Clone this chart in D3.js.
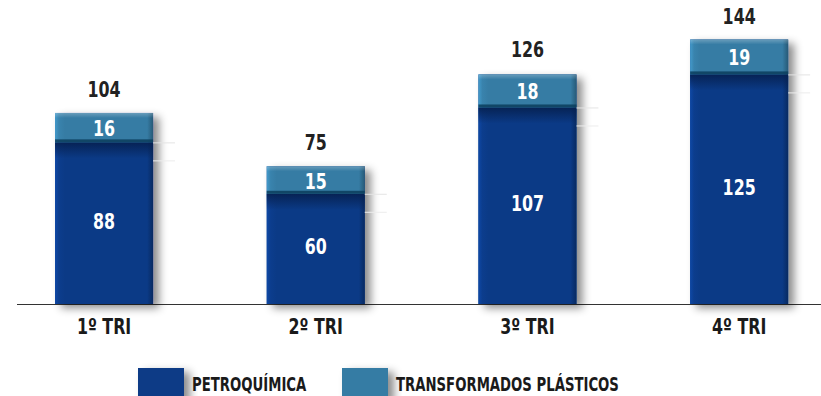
<!DOCTYPE html>
<html>
<head>
<meta charset="utf-8">
<script src="https://cdn.jsdelivr.net/npm/d3@7"></script>
<style>
  html, body { margin: 0; padding: 0; background: #fff; }
  svg { display: block; }
  text { font-family: "DejaVu Sans", sans-serif; font-stretch: condensed; }
</style>
</head>
<body>
<svg id="chart" width="821" height="396"></svg>
<script>
// Quarterly results by business segment
const categories = ["1º TRI", "2º TRI", "3º TRI", "4º TRI"];
const petroquimica = [88, 60, 107, 125];
const transformados = [16, 15, 18, 19];
const totals = [104, 75, 126, 144];
const seriesNames = ["PETROQUÍMICA", "TRANSFORMADOS PLÁSTICOS"];

const W = 821, H = 396;
const baseY = 304;
const colors = { dark: "#0b3a86", light: "#367ca4" };

const svg = d3.select("#chart");
const defs = svg.append("defs");

// narrow the condensed face a little further, DIN-like
function squeeze(sel, k) {
  sel.each(function () {
    const w = this.getComputedTextLength();
    d3.select(this).attr("textLength", w * k).attr("lengthAdjust", "spacingAndGlyphs");
  });
}

// soft drop shadow for bars and swatches
const shadow = defs.append("filter").attr("id", "shadow")
  .attr("x", "-20%").attr("y", "-20%").attr("width", "150%").attr("height", "150%");
shadow.append("feDropShadow").attr("dx", 6).attr("dy", 4)
  .attr("stdDeviation", 4).attr("flood-color", "#000").attr("flood-opacity", 0.45);

// horizontal bevel: lighter left edge, darker right edge
function bevel(id, base) {
  const c = d3.color(base);
  const g = defs.append("linearGradient").attr("id", id)
    .attr("x1", 0).attr("x2", 1).attr("y1", 0).attr("y2", 0);
  g.append("stop").attr("offset", "0%").attr("stop-color", c.brighter(0.6));
  g.append("stop").attr("offset", "4%").attr("stop-color", c.brighter(0.15));
  g.append("stop").attr("offset", "10%").attr("stop-color", c);
  g.append("stop").attr("offset", "94%").attr("stop-color", c);
  g.append("stop").attr("offset", "100%").attr("stop-color", c.darker(0.9));
}
bevel("gDark", colors.dark);
bevel("gLight", colors.light);

// dark band fading downward at top of the lower segment
const fade = defs.append("linearGradient").attr("id", "gFade")
  .attr("x1", 0).attr("x2", 0).attr("y1", 0).attr("y2", 1);
fade.append("stop").attr("offset", "0%").attr("stop-color", "#06204f").attr("stop-opacity", 0.9);
fade.append("stop").attr("offset", "100%").attr("stop-color", "#06204f").attr("stop-opacity", 0);

// top highlight of upper segment
const hi = defs.append("linearGradient").attr("id", "gHi")
  .attr("x1", 0).attr("x2", 0).attr("y1", 0).attr("y2", 1);
hi.append("stop").attr("offset", "0%").attr("stop-color", "#fff").attr("stop-opacity", 0.25);
hi.append("stop").attr("offset", "100%").attr("stop-color", "#fff").attr("stop-opacity", 0);

const x = d3.scaleBand().domain(categories).range([0, 843.2]).paddingInner(0.537).paddingOuter(0.26);
const y = d3.scaleLinear().domain([0, 144]).range([baseY, 39.5]);

const rows = categories.map((c, i) => ({
  cat: c, p: petroquimica[i], t: transformados[i], total: totals[i]
}));

// baseline axis
svg.append("line").attr("x1", 17).attr("x2", W).attr("y1", baseY + 0.5).attr("y2", baseY + 0.5)
  .attr("stroke", "#333").attr("stroke-width", 1.2);

const bw = x.bandwidth();
const g = svg.selectAll("g.bar").data(rows).join("g").attr("class", "bar")
  .attr("transform", d => `translate(${x(d.cat)},0)`);

// shadow body
g.append("rect").attr("x", 0).attr("width", bw)
  .attr("y", d => y(d.p + d.t)).attr("height", d => baseY - y(d.p + d.t))
  .attr("fill", colors.dark).attr("filter", "url(#shadow)");

// lower segment
g.append("rect").attr("x", 0).attr("width", bw)
  .attr("y", d => y(d.p)).attr("height", d => baseY - y(d.p))
  .attr("fill", "url(#gDark)");
g.append("rect").attr("x", 0).attr("width", bw)
  .attr("y", d => y(d.p)).attr("height", 16)
  .attr("fill", "url(#gFade)");

// upper segment
g.append("rect").attr("x", 0).attr("width", bw)
  .attr("y", d => y(d.p + d.t)).attr("height", d => y(d.p) - y(d.p + d.t))
  .attr("fill", "url(#gLight)");
g.append("rect").attr("x", 0).attr("width", bw)
  .attr("y", d => y(d.p + d.t)).attr("height", 5)
  .attr("fill", "url(#gHi)");
g.append("rect").attr("x", 0).attr("width", bw)
  .attr("y", d => y(d.p) - 3).attr("height", 3)
  .attr("fill", "#0a3d5c").attr("opacity", 0.85);

// faint guide lines beside each bar at the segment joint
g.append("line").attr("x1", bw).attr("x2", bw + 22)
  .attr("y1", d => y(d.p) + 0.5).attr("y2", d => y(d.p) + 0.5)
  .attr("stroke", "#e4e4e4");
g.append("line").attr("x1", bw).attr("x2", bw + 22)
  .attr("y1", d => y(d.p) + 18.5).attr("y2", d => y(d.p) + 18.5)
  .attr("stroke", "#ececec");

// value labels
const valFont = { size: 22, weight: "bold" };
const vIn1 = g.append("text").attr("x", bw / 2).attr("y", d => (y(d.p) + baseY) / 2 - 2)
  .attr("text-anchor", "middle").attr("dominant-baseline", "central")
  .attr("fill", "#fff").attr("font-size", valFont.size).attr("font-weight", valFont.weight)
  .text(d => d.p);
const vIn2 = g.append("text").attr("x", bw / 2).attr("y", d => (y(d.p) + y(d.p + d.t)) / 2 + 1)
  .attr("text-anchor", "middle").attr("dominant-baseline", "central")
  .attr("fill", "#fff").attr("font-size", valFont.size).attr("font-weight", valFont.weight)
  .text(d => d.t);
const vTot = g.append("text").attr("x", bw / 2).attr("y", d => y(d.total) - 16)
  .attr("text-anchor", "middle")
  .attr("fill", "#222").attr("font-size", valFont.size).attr("font-weight", valFont.weight)
  .text(d => d.total);
[vIn1, vIn2, vTot].forEach(s => squeeze(s, 0.8));

// category axis labels
const xAxis = d3.axisBottom(x).tickSize(0).tickPadding(0);
const ax = svg.append("g").attr("transform", `translate(0,${baseY})`).call(xAxis);
ax.select(".domain").remove();
ax.selectAll("text").attr("y", 23).attr("dy", "0.32em")
  .attr("font-size", 22).attr("font-weight", "bold").attr("fill", "#1a1a1a")
  .style("font-family", "'DejaVu Sans', sans-serif").style("font-stretch", "condensed");
squeeze(ax.selectAll("text"), 0.8);

// legend
const legendX = [138, 342];
const legendColors = [colors.dark, colors.light];
const lg = svg.selectAll("g.legend").data(seriesNames).join("g").attr("class", "legend")
  .attr("transform", (d, i) => `translate(${legendX[i]},368)`);
lg.append("rect").attr("width", 46).attr("height", 32)
  .attr("fill", (d, i) => legendColors[i]).attr("filter", "url(#shadow)");
const lt = lg.append("text").attr("x", 54).attr("y", 16).attr("dominant-baseline", "central")
  .attr("font-size", 19).attr("font-weight", "bold").attr("fill", "#1a1a1a")
  .text(d => d);
squeeze(lt, 0.775);
</script>
</body>
</html>
